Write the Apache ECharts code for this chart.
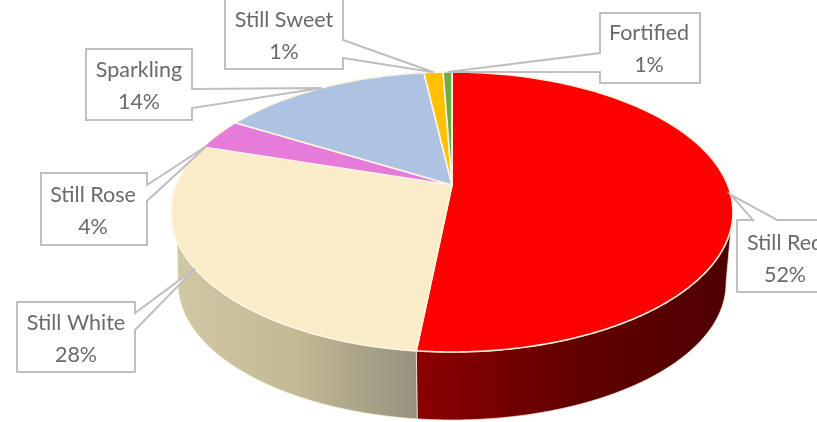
<!DOCTYPE html>
<html>
<head>
<meta charset="utf-8">
<style>html,body{margin:0;padding:0;background:#fff;overflow:hidden}#c{width:817px;height:422px}</style>
<script src="https://cdn.jsdelivr.net/npm/echarts@6/dist/echarts.min.js"></script>
</head>
<body>
<div id="c"></div>
<script>
const categories = ['Still Red', 'Still White', 'Still Rose', 'Sparkling', 'Still Sweet', 'Fortified'];
const shares = [51.7, 28.4, 3.6, 14.4, 1.3, 0.6];
const sliceColors = ['#ff0000', '#faecc9', '#e67bd9', '#aec3e1', '#ffc000', '#70ad47'];
const sideShades = [
  ['#8c0000', '#620000', '#4e0000'],
  ['#d0c7a5', '#c3b994', '#96917f'],
  null, null, null, null
];
// box = [left, top, right, bottom]; root = two points on the box edge where the pointer leaves it
const callouts = [
  { box: [737, 220, 833, 292], root: [[777, 220], [753, 220]], shift: [0, 0], text: [785, 259] },
  { box: [17, 302, 135, 372], root: [[135, 313], [135, 330]], shift: [0, 0], text: [76, 339] },
  { box: [41, 173, 147, 245], root: [[147, 185], [147, 201]], shift: [-12, 12], text: [93, 211] },
  { box: [86, 49, 192, 120], root: [[192, 89], [192, 108]], shift: [0, 0], text: [139, 86] },
  { box: [225, -1, 343, 69], root: [[343, 40], [343, 58]], shift: [0, 0], text: [284, 36] },
  { box: [600, 13, 700, 83], root: [[600, 53], [600, 72]], shift: [0, 0], text: [649, 49] }
];

const topRim = { cx: 452, cy: 212, rx: 281, ry: 140 };
const baseRim = { cx: 452, cy: 283.5, rx: 274, ry: 136.5 };
const tilt = 0.193;                 // how far the pie's centre sits behind the ellipse's centre
const squeeze = 0.838;              // rear slices look narrower, front slices wider
const sideFrom = 97, sideTo = 258;  // visible wall on the top rim, degrees clockwise from the top
const baseFrom = 90, baseTo = 270;  // the same wall's ends on the base rim
const total = shares.reduce((a, b) => a + b, 0);

const rad = d => d * Math.PI / 180;
// share-angle -> angle on the tilted ellipse
function warp(deg) {
  const a = ((deg + 180) % 360 + 360) % 360 - 180;
  const w = 2 * Math.atan(squeeze * Math.tan(rad(a) / 2)) * 180 / Math.PI;
  return w < 0 ? w + 360 : w;
}
const onEllipse = (e, deg) => [e.cx + e.rx * Math.sin(rad(deg)), e.cy - e.ry * Math.cos(rad(deg))];
const apex = [topRim.cx, topRim.cy - tilt * topRim.ry];

const spans = [];
shares.reduce((acc, v) => { spans.push([acc / total * 360, (acc + v) / total * 360]); return acc + v; }, 0);
const warpedSpan = i => {
  const a = warp(spans[i][0]);
  let b = warp(spans[i][1]);
  if (b <= a) b += 360;
  return [a, b];
};
function arc(e, a, b) {
  const n = Math.max(2, Math.ceil(Math.abs(b - a) * 1.5));
  const pts = [];
  for (let k = 0; k <= n; k++) pts.push(onEllipse(e, a + (b - a) * k / n));
  return pts;
}

const seriesData = categories.map((n, i) => ({ name: n, value: shares[i] }));

function renderSide(params) {
  const i = params.dataIndex;
  if (!sideShades[i]) return { type: 'group', children: [] };
  const s = warpedSpan(i);
  const a = Math.max(s[0], sideFrom), b = Math.min(s[1], sideTo);
  if (b <= a) return { type: 'group', children: [] };
  const ba = s[0] < sideFrom ? baseFrom : a, bb = s[1] > sideTo ? baseTo : b;
  const shades = sideShades[i];
  return {
    type: 'polygon',
    shape: { points: arc(topRim, a, b).concat(arc(baseRim, bb, ba)) },
    style: {
      fill: {
        type: 'linear', x: 0, y: 0, x2: 1, y2: 0,
        colorStops: shades.map((c, k) => ({ offset: k / (shades.length - 1), color: c }))
      },
      stroke: 'rgba(250,240,220,0.7)', lineWidth: 1
    }
  };
}
function renderTop(params) {
  const i = params.dataIndex;
  const s = warpedSpan(i);
  return {
    type: 'polygon',
    shape: { points: [apex].concat(arc(topRim, s[0], s[1])) },
    style: { fill: sliceColors[i], stroke: '#fff4e2', lineWidth: 1.6 }
  };
}
function renderCallout(params) {
  const i = params.dataIndex, c = callouts[i];
  const mid = warp((spans[i][0] + spans[i][1]) / 2);
  const p = onEllipse(topRim, mid);
  const tip = [p[0] + c.shift[0], p[1] + c.shift[1]];
  const [l, t, r, b] = c.box, [p1, p2] = c.root;
  const corners = [[l, t], [r, t], [r, b], [l, b]];
  // walk the box clockwise and splice the pointer into the edge that holds its root
  const pts = [];
  const onTop = p1[1] === t, onRight = p1[0] === r, onLeft = p1[0] === l;
  pts.push(corners[0]);
  if (onTop) pts.push(p2, tip, p1);
  pts.push(corners[1]);
  if (onRight) pts.push(p1, tip, p2);
  pts.push(corners[2], corners[3]);
  if (onLeft) pts.push(p2, tip, p1);
  return {
    type: 'group',
    children: [
      { type: 'polygon', shape: { points: pts }, style: { fill: '#ffffff', stroke: '#bfbfbf', lineWidth: 2 } },
      {
        type: 'text',
        style: {
          x: c.text[0], y: c.text[1],
          text: categories[i] + '\n' + Math.round(shares[i] / total * 100) + '%',
          font: '21.5px Lato, "Open Sans", sans-serif',
          lineHeight: 32, fill: '#6a6a6a', align: 'center', verticalAlign: 'middle'
        }
      }
    ]
  };
}

const chart = echarts.init(document.getElementById('c'), null, { renderer: 'canvas' });
chart.setOption({
  animation: false,
  backgroundColor: '#ffffff',
  series: [
    { type: 'custom', coordinateSystem: 'none', silent: true, z: 1, data: seriesData, renderItem: renderSide },
    { type: 'custom', coordinateSystem: 'none', silent: true, z: 2, data: seriesData, renderItem: renderTop },
    { type: 'custom', coordinateSystem: 'none', silent: true, z: 3, data: seriesData, renderItem: renderCallout }
  ]
});
</script>
</body>
</html>
